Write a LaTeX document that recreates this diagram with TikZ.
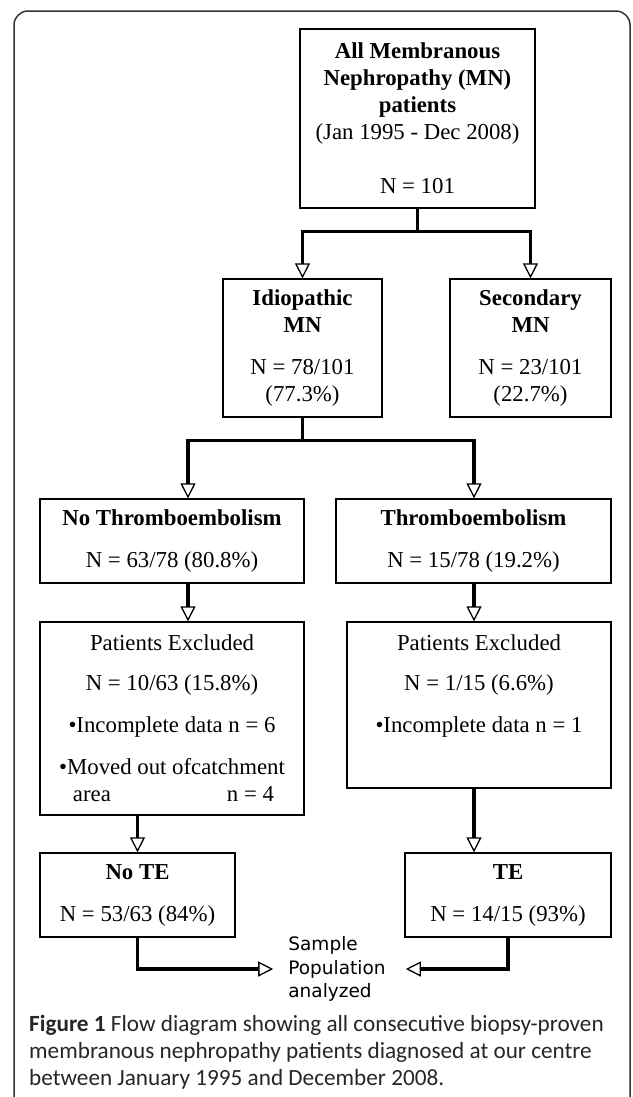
\documentclass[tikz,border=0pt]{standalone}
\usepackage{fontspec}
\setmainfont{Liberation Serif}
\newfontfamily\capfont{Carlito}
\newfontfamily\popfont{DejaVu Sans}
\usetikzlibrary{arrows.meta}

\begin{document}
\begin{tikzpicture}[x=1bp,y=-1bp,
	box/.style={draw,line width=1.3bp,align=center,inner sep=0pt,
		font=\fontsize{22.8bp}{27bp}\selectfont},
	conn/.style={line width=3.5bp,
		-{Triangle[open,length=15bp,width=15bp,line width=1.3bp]}}]
	\useasboundingbox (0,0) rectangle (633,1097);
	\draw[line width=1.5bp,black!80,rounded corners=14bp]
	(14,11) rectangle (630,1130);

	\node[box,minimum width=235bp,minimum height=179bp] (all) at (417.5,118.5)
	{\textbf{All Membranous}\\\textbf{Nephropathy (MN)}\\\textbf{patients}\\(Jan 1995 - Dec 2008)\\[27bp]N = 101};
	\node[box,minimum width=159bp,minimum height=138bp] (idio) at (302.5,348)
	{\textbf{Idiopathic}\\\textbf{MN}\\[15bp]N = 78/101\\(77.3\%)};
	\node[box,minimum width=161bp,minimum height=138bp] (sec) at (530.5,348)
	{\textbf{Secondary}\\\textbf{MN}\\[15bp]N = 23/101\\(22.7\%)};
	\node[box,minimum width=264bp,minimum height=84bp] (nothr) at (172,541)
	{\textbf{No Thromboembolism}\\[15bp]N = 63/78 (80.8\%)};
	\node[box,minimum width=275bp,minimum height=84bp] (thr) at (473.5,541)
	{\textbf{Thromboembolism}\\[15bp]N = 15/78 (19.2\%)};
	\node[box,minimum width=264bp,minimum height=193bp] (exl) at (172,718.5)
	{Patients Excluded\\[13bp]N = 10/63 (15.8\%)\\[15bp]•Incomplete data n = 6\\[15bp]•Moved out ofcatchment\\
		\makebox[232bp][l]{\hspace{17bp}area\hfill n = 4\hspace{14bp}}};
	\node[box,minimum width=264bp,minimum height=166bp] (exr) at (479,705)
	{Patients Excluded\\[13bp]N = 1/15 (6.6\%)\\[15bp]•Incomplete data n = 1\\[15bp]\mbox{}};
	\node[box,minimum width=195bp,minimum height=84bp] (note) at (137.5,895)
	{\textbf{No TE}\\[15bp]N = 53/63 (84\%)};
	\node[box,minimum width=206bp,minimum height=84bp] (te) at (508,895)
	{\textbf{TE}\\[15bp]N = 14/15 (93\%)};
	\node[align=left,inner sep=0pt,font=\popfont\fontsize{18.5bp}{23.5bp}\selectfont]
	(pop) at (337,969) {Sample\\Population\\analyzed};
	\node[anchor=north west,align=left,inner sep=0pt,text=black!85,
		font=\capfont\fontsize{23.2bp}{26.8bp}\selectfont] (cap) at (29,1015)
	{\textbf{Figure 1} Flow diagram showing all consecutive biopsy-proven\\
		membranous nephropathy patients diagnosed at our centre\\
		between January 1995 and December 2008.};

	\coordinate (lx) at (188,0);
	\coordinate (rx) at (474,0);
	\draw[conn] (all.south) -- ++(0,23) -| (idio.north);
	\draw[conn] (all.south) -- ++(0,23) -| (sec.north);
	\draw[conn] (idio.south) -- ++(0,23) -| (nothr.north -| lx);
	\draw[conn] (idio.south) -- ++(0,23) -| (thr.north -| rx);
	\draw[conn] (nothr.south -| lx) -- (exl.north -| lx);
	\draw[conn] (thr.south -| rx) -- (exr.north -| rx);
	\draw[conn] (exl.south -| note.north) -- (note.north);
	\draw[conn] (exr.south -| rx) -- (te.north -| rx);
	\draw[conn,shorten >=15bp] (note.south) |- (pop.west);
	\draw[conn,shorten >=20bp] (te.south) |- (pop.east);

\end{tikzpicture}
\end{document}
